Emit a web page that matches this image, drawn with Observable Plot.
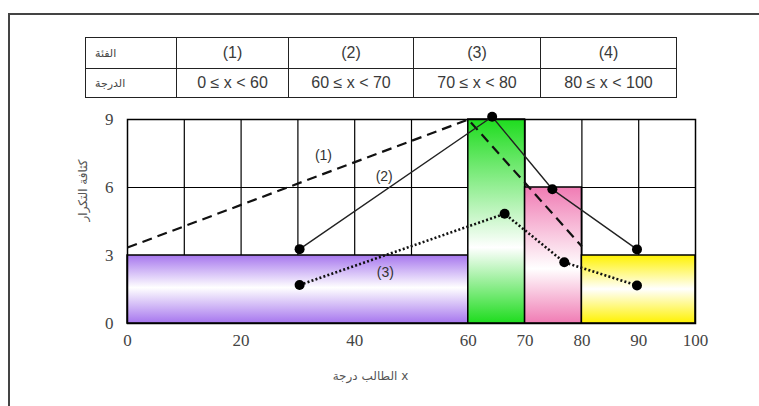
<!DOCTYPE html>
<html>
<head>
<meta charset="utf-8">
<script src="https://cdn.jsdelivr.net/npm/d3@7"></script>
<script src="https://cdn.jsdelivr.net/npm/@observablehq/plot@0.6"></script>
<style>
  html, body { margin: 0; padding: 0; background: #fff; }
  #wrap { position: relative; width: 759px; height: 406px; overflow: hidden; background: #fff; }
  #frame { position: absolute; left: 8px; top: 13px; width: 800px; height: 500px;
           border-left: 2px solid #444; border-top: 2px solid #444; }
  #chart { position: absolute; left: 0; top: 0; }
  #tbl { position: absolute; left: 85px; top: 37px; border-collapse: collapse; table-layout: fixed; }
  #tbl td { border: 1.5px solid #222; padding: 0; text-align: center; color: #3a3a3a;
            font: 16px "Liberation Sans", Arial, sans-serif; white-space: nowrap; overflow: hidden; }
  #tbl td.ar { font: 11px "DejaVu Sans", sans-serif; text-align: left; padding-left: 9px; color: #444; }
</style>
</head>
<body>
<div id="wrap">
  <div id="frame"></div>
  <div id="chart"></div>
  <table id="tbl"></table>
</div>
<script>
// ---- data ----
const rowHeaders = ["الفئة", "الدرجة"];
const classLabels = ["(1)", "(2)", "(3)", "(4)"];
const rangeLabels = ["0 ≤ x < 60", "60 ≤ x < 70", "70 ≤ x < 80", "80 ≤ x < 100"];
const binStart = [0, 60, 70, 80];
const binEnd = [60, 70, 80, 100];
const binDensity = [3, 9, 6, 3];
const xTicks = [0, 20, 40, 60, 70, 80, 90, 100];
const yTicks = [0, 3, 6, 9];
const gridXValues = [10, 20, 30, 40, 50, 60, 70, 80, 90];
const gridYValues = [3, 6, 9];
const line1 = [{x: 0, y: 3.35}, {x: 60, y: 9}, {x: 80, y: 3.4}];
const line2 = [{x: 30.3, y: 3.28}, {x: 64.2, y: 9.12}, {x: 74.8, y: 5.92}, {x: 89.7, y: 3.27}];
const line3 = [{x: 30.3, y: 1.7}, {x: 66.4, y: 4.84}, {x: 76.9, y: 2.7}, {x: 89.7, y: 1.68}];
const seriesLabels = [
  {x: 34.5, y: 7.4, text: "(1)"},
  {x: 45.2, y: 6.5, text: "(2)"},
  {x: 45.4, y: 2.25, text: "(3)"}
];
// x title words as they appear left-to-right in the reference
const xTitleWords = ["درجة", "الطالب"];
const xTitleVar = "x";
const yTitle = "كثافة التكرار";

// ---- styles ----
const binColors = ["#a676ee", "#1edc1e", "#f07cb4", "#fff200"];
const binWhiteAt = [0.48, 0.63, 0.6, 0.5];
const colWidths = [81, 111, 124, 126, 135];
const serif = "'Liberation Serif', 'Times New Roman', 'DejaVu Serif', serif";

// ---- table ----
const tbl = d3.select("#tbl");
const r1 = tbl.append("tr").style("height", "31px");
r1.append("td").attr("class", "ar").style("width", colWidths[0] + "px").text(rowHeaders[0]);
classLabels.forEach((t, i) => r1.append("td").style("width", colWidths[i + 1] + "px").text(t));
const r2 = tbl.append("tr").style("height", "29px");
r2.append("td").attr("class", "ar").text(rowHeaders[1]);
rangeLabels.forEach(t => r2.append("td").text(t));

// ---- chart ----
const bins = binStart.map((s, i) => ({x1: s, x2: binEnd[i], h: binDensity[i], i}));
// an RTL run shows its words right-to-left, so reverse them to get the reference's visual order
const xTitle = "\u200E" + [...xTitleWords].reverse().join(" ") + " " + xTitleVar;

const chart = Plot.plot({
  width: 759,
  height: 406,
  marginLeft: 127,
  marginRight: 64,
  marginTop: 119,
  marginBottom: 83,
  x: {domain: [0, 100], ticks: xTicks, tickSize: 0, tickPadding: 10, label: null},
  y: {domain: [0, 9], ticks: yTicks, tickSize: 0, tickPadding: 14, label: null},
  style: {fontSize: "17px", color: "#444", background: "transparent", overflow: "visible"},
  marks: [
    Plot.ruleX(gridXValues, {y1: 0, y2: 9, stroke: "#000", strokeWidth: 1.2}),
    Plot.ruleY(gridYValues, {stroke: "#000", strokeWidth: 1.2}),
    ...bins.map(b => Plot.rect([b], {x1: "x1", x2: "x2", y1: 0, y2: "h",
      fill: `url(#grad${b.i})`, stroke: "#000", strokeWidth: 1.5})),
    Plot.frame({stroke: "#000", strokeWidth: 1.5}),
    Plot.line(line1, {x: "x", y: "y", stroke: "#111", strokeWidth: 2.2, strokeDasharray: "10,6", strokeLinecap: "butt"}),
    Plot.line(line2, {x: "x", y: "y", stroke: "#222", strokeWidth: 1.4}),
    Plot.line(line3, {x: "x", y: "y", stroke: "#111", strokeWidth: 2.6, strokeDasharray: "2,2.2", strokeLinecap: "butt"}),
    Plot.dot([...line2, ...line3], {x: "x", y: "y", r: 5, fill: "#000", stroke: "none"}),
    Plot.text(seriesLabels, {x: "x", y: "y", text: "text", fontFamily: "Liberation Sans",
      fontSize: 14, fill: "#333"}),
    Plot.text([xTitle], {frameAnchor: "bottom", dx: -41, dy: 56, fontFamily: "DejaVu Sans", fontSize: 12, fill: "#555"}),
    Plot.text([yTitle], {frameAnchor: "left", dx: -44, rotate: -90, fontFamily: "DejaVu Sans", fontSize: 12, fill: "#555"})
  ]
});

const defs = d3.select(chart).insert("defs", ":first-child");
binColors.forEach((c, i) => {
  const g = defs.append("linearGradient").attr("id", "grad" + i)
    .attr("x1", 0).attr("y1", 0).attr("x2", 0).attr("y2", 1);
  g.append("stop").attr("offset", 0).attr("stop-color", c);
  g.append("stop").attr("offset", binWhiteAt[i]).attr("stop-color", "#ffffff");
  g.append("stop").attr("offset", 1).attr("stop-color", c);
});
// serif font on the axis tick labels
d3.select(chart).selectAll('g[aria-label*="axis"] text').style("font-family", serif);

document.getElementById("chart").appendChild(chart);
</script>
</body>
</html>
